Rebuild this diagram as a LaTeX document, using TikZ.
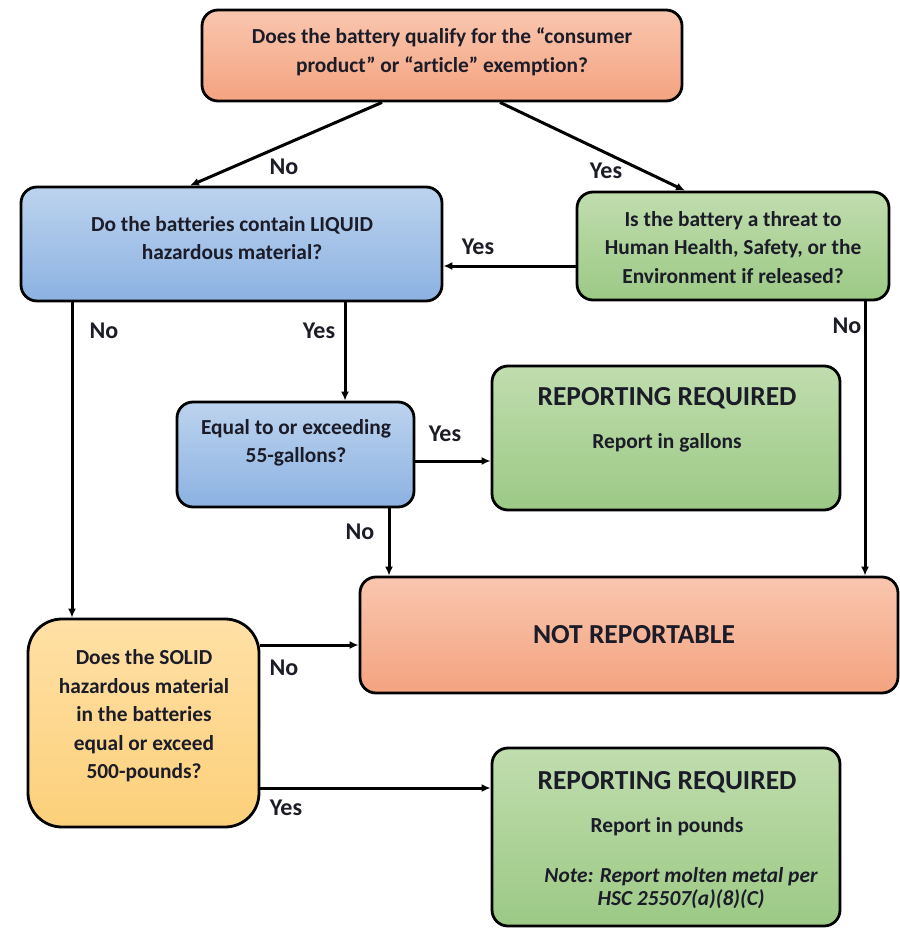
\documentclass[tikz,border=0pt]{standalone}
\usepackage{fontspec}
\setmainfont{Carlito}[Ligatures=NoCommon]
\usetikzlibrary{arrows.meta}
\definecolor{salmonT}{HTML}{F9C6AF}
\definecolor{salmonB}{HTML}{F4A380}
\definecolor{blueT}{HTML}{BCD3EE}
\definecolor{blueB}{HTML}{8CB2E2}
\definecolor{greenT}{HTML}{C0DDAE}
\definecolor{greenB}{HTML}{9CC985}
\definecolor{amberT}{HTML}{FFE0A6}
\definecolor{amberB}{HTML}{FCD07A}
\definecolor{ink}{HTML}{1C1C28}
\tikzset{
  box/.style={draw=black, line width=2.8pt, rounded corners=16pt, inner sep=0pt},
  salmonbox/.style={box, top color=salmonT, bottom color=salmonB},
  bluebox/.style={box, top color=blueT, bottom color=blueB},
  greenbox/.style={box, top color=greenT, bottom color=greenB},
  amberbox/.style={box, top color=amberT, bottom color=amberB, rounded corners=34pt},
  txt/.style={text=ink, align=center, inner sep=0pt, font=\bfseries\fontsize{21.4}{28.5}\selectfont},
  head/.style={text=ink, inner sep=0pt, font=\bfseries\fontsize{27.5}{30}\selectfont},
  note/.style={text=ink, align=center, inner sep=0pt, font=\bfseries\itshape\fontsize{21.4}{22.5}\selectfont},
  lbl/.style={text=ink, inner sep=0pt, font=\bfseries\fontsize{24}{26}\selectfont},
  arr/.style={draw=black, line width=3pt, -{Latex[length=9pt,width=8pt]}}
}
\begin{document}
\begin{tikzpicture}[x=1pt,y=-1pt]
\useasboundingbox (0,0) rectangle (899,928);

% boxes
\node[salmonbox, minimum width=480, minimum height=91] (top) at (442,55.5) {};
\node[bluebox, minimum width=421, minimum height=114] (liq) at (231.5,244) {};
\node[greenbox, minimum width=312, minimum height=108] (thr) at (733,246) {};
\node[bluebox, minimum width=237, minimum height=105] (gal) at (295.5,454.5) {};
\node[greenbox, minimum width=348, minimum height=144] (rg) at (666,438) {};
\node[salmonbox, minimum width=538, minimum height=116] (nr) at (629,635) {};
\node[amberbox, minimum width=231, minimum height=208] (sol) at (143.5,723) {};
\node[greenbox, minimum width=348, minimum height=178] (rp) at (666,837) {};

% box texts
\node[txt] (t-top) at (442,52) {Does the battery qualify for the “consumer\\product” or “article” exemption?};
\node[txt] (t-liq) at (232,238) {Do the batteries contain LIQUID\\hazardous material?};
\node[txt] (t-thr) at (733,247.5) {Is the battery a threat to\\Human Health, Safety, or the\\Environment if released?};
\node[txt] (t-gal) at (296,443) {Equal to or exceeding\\55-gallons?};
\node[head] (t-rg1) at (667,398) {REPORTING REQUIRED};
\node[txt] (t-rg2) at (667,443) {Report in gallons};
\node[head] (t-nr) at (634,635) {NOT REPORTABLE};
\node[txt] (t-sol) at (144,716) {Does the SOLID\\hazardous material\\in the batteries\\equal or exceed\\500-pounds?};
\node[head] (t-rp1) at (667,782) {REPORTING REQUIRED};
\node[txt] (t-rp2) at (667,827) {Report in pounds};
\node[note] (t-rp3) at (681,888) {Note: Report molten metal per\\HSC 25507(a)(8)(C)};

% connectors
\draw[arr] ([xshift=-60]top.south) -- ([xshift=-41.5]liq.north);
\draw[arr] ([xshift=58]top.south) -- ([xshift=-48]thr.north);
\coordinate (c-thr) at ([yshift=-20]thr.west);
\draw[arr] (c-thr) -- (c-thr -| liq.east);
\coordinate (c-liqno) at ([xshift=-159.5]liq.south);
\draw[arr] (c-liqno) -- (c-liqno |- sol.north);
\coordinate (c-liqyes) at ([xshift=113.5]liq.south);
\draw[arr] (c-liqyes) -- (c-liqyes |- gal.north);
\coordinate (c-galyes) at ([yshift=-6.5]gal.east);
\draw[arr] (c-galyes) -- (c-galyes -| rg.west);
\coordinate (c-galno) at ([xshift=93.5]gal.south);
\draw[arr] (c-galno) -- (c-galno |- nr.north);
\coordinate (c-thrno) at ([xshift=132]thr.south);
\draw[arr] (c-thrno) -- (c-thrno |- nr.north);
\coordinate (c-solno) at ([yshift=78]sol.east);
\draw[arr] (c-solno) -- (c-solno -| nr.west);
\coordinate (c-solyes) at ([yshift=-65]sol.east);
\draw[arr] (c-solyes) -- (c-solyes -| rp.west);

% connector labels
\node[lbl] (l1) at (284,167) {No};
\node[lbl] (l2) at (606,171) {Yes};
\node[lbl] (l3) at (478,247) {Yes};
\node[lbl] (l4) at (104,331) {No};
\node[lbl] (l5) at (319,331) {Yes};
\node[lbl] (l6) at (445,434) {Yes};
\node[lbl] (l7) at (360,532) {No};
\node[lbl] (l8) at (847,326) {No};
\node[lbl] (l9) at (284,668) {No};
\node[lbl] (l10) at (286,808) {Yes};
\end{tikzpicture}
\end{document}
